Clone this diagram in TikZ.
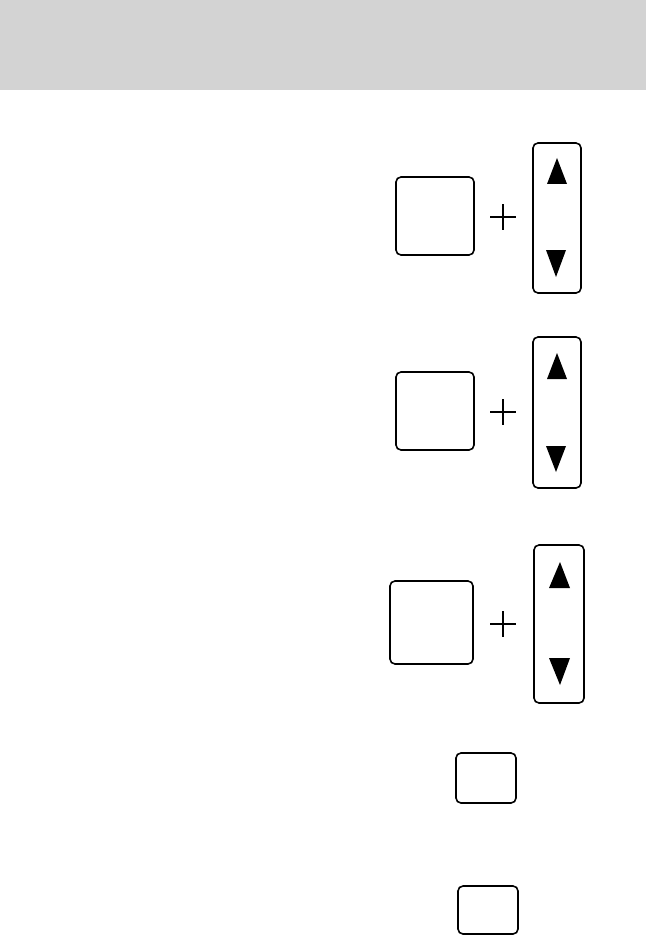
\documentclass[tikz,border=0pt]{standalone}
\usepackage{tikz}
\definecolor{headgray}{RGB}{211,211,211}
\usetikzlibrary{positioning}

\begin{document}
\begin{tikzpicture}[x=1pt, y=-1pt, line width=1.6pt,
					key/.style 2 args={draw, rounded corners=5pt, inner sep=0pt, minimum width=#1, minimum height=#2},
					arrowtri/.style={fill=black, line width=0pt}]
					\useasboundingbox (0,0) rectangle (646,936);
					\fill[headgray] (0,0) rectangle (646,90);
					% first pair
					\node[key={78pt}{78pt}] (btnA) at (435,216) {};
					\node[key={48pt}{150pt}] (rockA) at (557,218) {};
					\draw[line width=1.4pt] (490,217) -- (516,217) (503,204) -- (503,230);
					\fill[arrowtri] (547,184) -- (567,184) -- (557,158) -- cycle;
					\fill[arrowtri] (546,250) -- (566,250) -- (556,277) -- cycle;
					% second pair
					\node[key={78pt}{78pt}] (btnB) at (435,411) {};
					\node[key={48pt}{151pt}] (rockB) at (557,412.5) {};
					\draw[line width=1.4pt] (490,412) -- (516,412) (503,399) -- (503,425);
					\fill[arrowtri] (547,379) -- (567,379) -- (557,353) -- cycle;
					\fill[arrowtri] (546,446) -- (566,446) -- (556,472) -- cycle;
					% third pair
					\node[key={83pt}{83pt}] (btnC) at (431.5,622.5) {};
					\node[key={50pt}{158pt}] (rockC) at (559,624) {};
					\draw[line width=1.4pt] (490,624) -- (516,624) (503,611) -- (503,637);
					\fill[arrowtri] (549,588) -- (570,588) -- (560,562) -- cycle;
					\fill[arrowtri] (549,658) -- (570,658) -- (560,685) -- cycle;
					% single keys
					\node[key={60pt}{50pt}] (btnD) at (486,778) {};
					\node[key={60pt}{48pt}] (btnE) at (488,910) {};
				\end{tikzpicture}
\end{document}
